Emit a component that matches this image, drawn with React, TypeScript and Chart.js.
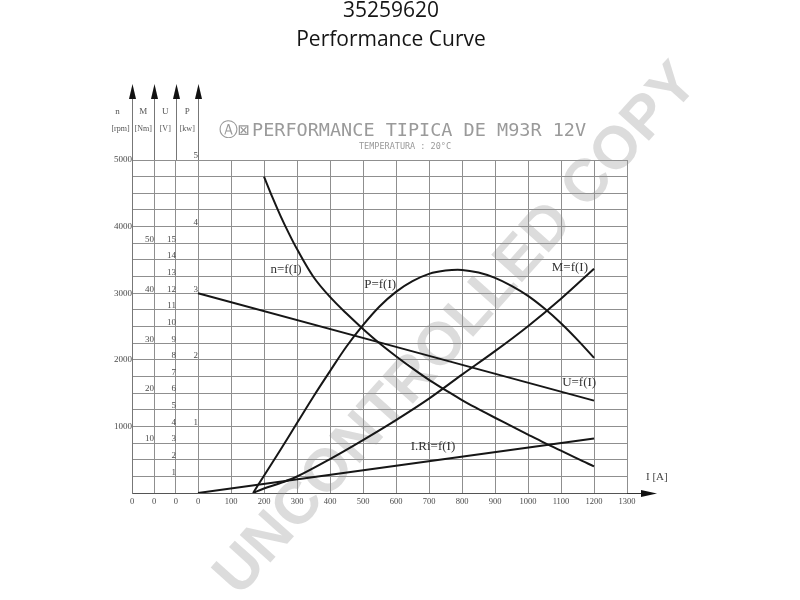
import React, { useEffect, useRef } from 'react';
import { Chart, registerables } from 'chart.js';

Chart.register(...registerables);

// ---- data ----
const speedCurrentA = [200, 225, 250, 275, 300, 350, 400, 450, 500, 550, 600, 650, 700, 750, 800, 850, 900, 950, 1000, 1050, 1100, 1150, 1200];
const speedRpm = [4750, 4445, 4162, 3902, 3662, 3244, 2944, 2694, 2464, 2249, 2054, 1871, 1699, 1545, 1395, 1260, 1130, 1003, 877, 753, 635, 515, 400];

const powerCurrentA = [167, 200, 250, 300, 350, 400, 450, 500, 550, 600, 650, 700, 750, 800, 850, 900, 950, 1000, 1050, 1100, 1150, 1200];
const powerKw = [0, 0.26, 0.65, 1.05, 1.45, 1.83, 2.2, 2.52, 2.8, 3.02, 3.18, 3.29, 3.34, 3.35, 3.31, 3.23, 3.11, 2.96, 2.77, 2.55, 2.3, 2.03];

const torqueCurrentA = [167, 200, 250, 300, 400, 500, 600, 700, 800, 900, 1000, 1100, 1200];
const torqueNm = [0, 0.9, 2.0, 3.3, 6.8, 10.6, 14.6, 18.9, 23.7, 28.4, 33.4, 38.9, 44.9];

const voltageCurrentA = [0, 1200];
const voltageV = [12.0, 5.55];

const dropCurrentA = [0, 1200];
const dropV = [0, 3.28];

// ---- ticks ----
const axisColumnValues = [-200, -133.333, -66.667, 0]; // zero points of n, M, U, P columns
const currentTicks = [0, 100, 200, 300, 400, 500, 600, 700, 800, 900, 1000, 1100, 1200, 1300];
const speedGridTicks = [0, 250, 500, 750, 1000, 1250, 1500, 1750, 2000, 2250, 2500, 2750, 3000, 3250, 3500, 3750, 4000, 4250, 4500, 4750, 5000];
const speedLabelTicks = [1000, 2000, 3000, 4000, 5000];
const torqueTicks = [10, 20, 30, 40, 50];
const voltageTicks = [1, 2, 3, 4, 5, 6, 7, 8, 9, 10, 11, 12, 13, 14, 15];
const powerTicks = [1, 2, 3, 4, 5];

const axisNames = ['n', 'M', 'U', 'P'];
const axisUnits = ['[rpm]', '[Nm]', '[V]', '[kw]'];
const curveLabels = ['n=f(I)', 'P=f(I)', 'M=f(I)', 'U=f(I)', 'I.Ri=f(I)'];

const TICK_FONT_Y = { family: "'Liberation Serif', 'DejaVu Serif', serif", size: 9 };
const TICK_FONT_X = { family: "'Liberation Serif', 'DejaVu Serif', serif", size: 8.5 };
const TICK_COLOR = '#4a4a4a';
const GRID_COLOR = '#8f8f8f';
const CURVE_COLOR = '#161616';

const toPts = (xs: number[], ys: number[]) => xs.map((x, i) => ({ x, y: ys[i] }));

const decorPlugin = {
  id: 'decor',
  beforeDraw(chart: any) {
    const ctx = chart.ctx;
    ctx.save();
    ctx.fillStyle = '#ffffff';
    ctx.fillRect(0, 0, chart.width, chart.height);
    ctx.restore();
  },
  beforeDatasetsDraw(chart: any) {
    const ctx = chart.ctx;
    // watermark
    ctx.save();
    ctx.translate(457, 330);
    ctx.rotate((-48.1 * Math.PI) / 180);
    ctx.font = "bold 60px 'Liberation Sans', 'Open Sans', sans-serif";
    ctx.fillStyle = 'rgba(150,150,150,0.33)';
    ctx.textAlign = 'center';
    ctx.textBaseline = 'middle';
    ctx.fillText('UNCONTROLLED COPY', 0, 0);
    ctx.restore();
  },
  afterDatasetsDraw(chart: any) {
    const ctx = chart.ctx;
    const xs = chart.scales.x;
    const ys = chart.scales.y;
    const top = chart.chartArea.top;
    const zeroY = ys.getPixelForValue(0);

    ctx.save();
    // vertical axis columns extending above the grid + arrowheads
    axisColumnValues.forEach((v, i) => {
      const px = Math.round(xs.getPixelForValue(v)) + 0.5;
      ctx.strokeStyle = '#777';
      ctx.lineWidth = 1;
      ctx.beginPath();
      ctx.moveTo(px, top);
      ctx.lineTo(px, 98);
      ctx.stroke();
      ctx.fillStyle = '#111';
      ctx.beginPath();
      ctx.moveTo(px, 84);
      ctx.lineTo(px - 3.5, 99);
      ctx.lineTo(px + 3.5, 99);
      ctx.closePath();
      ctx.fill();
      // axis names / units in the column left of the axis line
      const prev = i === 0 ? px - 22 : Math.round(xs.getPixelForValue(axisColumnValues[i - 1]));
      const cx = i === 0 ? px - 12 : (prev + px) / 2;
      ctx.fillStyle = '#555';
      ctx.font = "9px 'Liberation Serif', serif";
      ctx.textAlign = 'center';
      ctx.textBaseline = 'middle';
      ctx.fillText(axisNames[i], i === 0 ? cx - 3 : cx, 112);
      ctx.font = "8px 'Liberation Serif', serif";
      ctx.fillText(axisUnits[i], cx, 129);
    });

    // x axis arrow
    const xEnd = xs.getPixelForValue(1300);
    ctx.strokeStyle = '#333';
    ctx.lineWidth = 1;
    ctx.beginPath();
    ctx.moveTo(xEnd, zeroY + 0.5);
    ctx.lineTo(642, zeroY + 0.5);
    ctx.stroke();
    ctx.fillStyle = '#111';
    ctx.beginPath();
    ctx.moveTo(657, zeroY + 0.5);
    ctx.lineTo(641, zeroY - 3);
    ctx.lineTo(641, zeroY + 4);
    ctx.closePath();
    ctx.fill();
    ctx.fillStyle = '#444';
    ctx.font = "11px 'Liberation Serif', serif";
    ctx.textAlign = 'left';
    ctx.textBaseline = 'middle';
    ctx.fillText('I [A]', 646, 477);

    // curve labels, anchored in data space
    const anchors: [number, number][] = [
      [267, 3353],
      [552, 3128],
      [1127, 3383],
      [1155, 1654],
      [712, 692],
    ];
    ctx.fillStyle = '#333';
    ctx.font = "13px 'Liberation Serif', serif";
    ctx.textAlign = 'center';
    ctx.textBaseline = 'middle';
    curveLabels.forEach((t, i) => {
      const [ax, ay] = anchors[i];
      ctx.fillText(t, xs.getPixelForValue(ax), ys.getPixelForValue(ay));
    });

    // headings
    ctx.fillStyle = '#151515';
    ctx.font = "21px 'Open Sans', 'Noto Sans', sans-serif";
    ctx.textAlign = 'center';
    ctx.textBaseline = 'alphabetic';
    ctx.fillText('35259620', 391, 17);
    ctx.fillText('Performance Curve', 391, 46);

    ctx.fillStyle = '#9a9a9a';
    ctx.font = "18.5px 'DejaVu Sans Mono', monospace";
    ctx.textAlign = 'left';
    ctx.fillText('Ⓐ⊠', 219, 136);
    ctx.fillText('PERFORMANCE TIPICA DE M93R 12V', 252, 136);
    ctx.font = "8.5px 'DejaVu Sans Mono', monospace";
    ctx.textAlign = 'center';
    ctx.fillText('TEMPERATURA : 20°C', 405, 149);
    ctx.restore();
  },
};

const sideAxis = (col: number, max: number, ticks: number[]) => ({
  type: 'linear' as const,
  axis: 'y' as const,
  position: { x: col },
  min: 0,
  max,
  afterBuildTicks: (s: any) => {
    s.ticks = ticks.map((value) => ({ value }));
  },
  grid: { display: false, drawTicks: false },
  border: { display: false },
  ticks: {
    autoSkip: false,
    padding: 2,
    labelOffset: -4,
    font: TICK_FONT_Y,
    color: TICK_COLOR,
    callback: (v: any) => String(v),
  },
});

export default function App() {
  const canvasRef = useRef<HTMLCanvasElement | null>(null);

  useEffect(() => {
    if (!canvasRef.current) return;
    const lineStyle = {
      borderColor: CURVE_COLOR,
      borderWidth: 2,
      pointRadius: 0,
      fill: false,
      tension: 0.35,
    };
    const chart = new Chart(canvasRef.current, {
      type: 'line',
      data: {
        datasets: [
          { label: 'n=f(I)', data: toPts(speedCurrentA, speedRpm), yAxisID: 'y', ...lineStyle },
          { label: 'P=f(I)', data: toPts(powerCurrentA, powerKw), yAxisID: 'yP', ...lineStyle },
          { label: 'M=f(I)', data: toPts(torqueCurrentA, torqueNm), yAxisID: 'yM', ...lineStyle },
          { label: 'U=f(I)', data: toPts(voltageCurrentA, voltageV), yAxisID: 'yU', ...lineStyle },
          { label: 'I.Ri=f(I)', data: toPts(dropCurrentA, dropV), yAxisID: 'yU', ...lineStyle },
        ],
      },
      options: {
        animation: false,
        responsive: false,
        maintainAspectRatio: false,
        layout: { padding: { left: 132, right: 173, top: 160, bottom: 107 } },
        plugins: {
          legend: { display: false },
          title: { display: false },
          tooltip: { enabled: false },
        },
        scales: {
          x: {
            type: 'linear',
            position: { y: 0 } as any,
            min: -200,
            max: 1300,
            afterBuildTicks: (s: any) => {
              s.ticks = [...axisColumnValues, ...currentTicks.slice(1)].map((value) => ({ value }));
            },
            grid: { color: GRID_COLOR, lineWidth: 1, drawTicks: false },
            border: { display: true, color: '#555' },
            ticks: {
              autoSkip: false,
              maxRotation: 0,
              padding: 4,
              font: TICK_FONT_X,
              color: TICK_COLOR,
              callback: (v: any) => (Number(v) <= 0 ? '0' : String(v)),
            },
          },
          y: {
            type: 'linear',
            axis: 'y',
            position: { x: -200 } as any,
            min: 0,
            max: 5000,
            afterBuildTicks: (s: any) => {
              s.ticks = speedGridTicks.map((value) => ({ value }));
            },
            grid: { color: GRID_COLOR, lineWidth: 1, drawTicks: false },
            border: { display: true, color: '#777' },
            ticks: {
              autoSkip: false,
              padding: 3,
              font: TICK_FONT_Y,
              color: TICK_COLOR,
              callback: (v: any) => (speedLabelTicks.includes(Number(v)) ? String(v) : ''),
            },
          },
          yM: sideAxis(-133.333, 5000 / 75, torqueTicks) as any,
          yU: sideAxis(-66.667, 5000 / 250, voltageTicks) as any,
          yP: sideAxis(0, 5, powerTicks) as any,
        },
      },
      plugins: [decorPlugin],
    });
    return () => chart.destroy();
  }, []);

  return (
    <div style={{ position: 'absolute', left: 0, top: 0, width: 800, height: 600 }}>
      <canvas ref={canvasRef} width={800} height={600} />
    </div>
  );
}
